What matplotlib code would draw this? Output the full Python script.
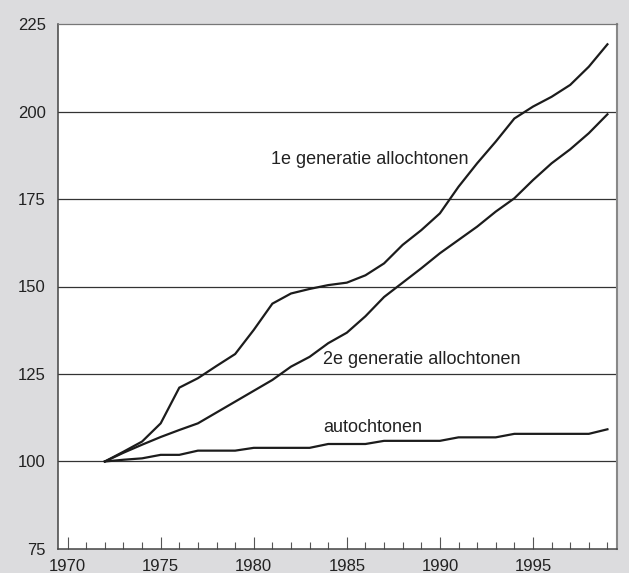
"""
Index (1972 = 100) for autochtonen and 1e / 2e generatie allochtonen, 1972-1999.
"""

import matplotlib
matplotlib.use("Agg")
import matplotlib.pyplot as plt
from matplotlib.ticker import MultipleLocator

plt.rcParams["font.family"] = ["Liberation Sans", "DejaVu Sans"]

# Data
years = list(range(1972, 2000))

gen1 = [100.0, 102.8, 105.7, 110.9, 121.1, 123.8, 127.3, 130.7, 137.6, 145.1,
        148.0, 149.3, 150.4, 151.1, 153.2, 156.6, 161.9, 166.1, 170.9, 178.5,
        185.2, 191.4, 198.0, 201.4, 204.2, 207.6, 212.8, 219.2]

gen2 = [100.0, 102.5, 104.8, 107.0, 109.0, 110.9, 114.0, 117.1, 120.2, 123.3,
        127.1, 129.9, 133.8, 136.8, 141.5, 147.0, 151.1, 155.2, 159.5, 163.3,
        167.1, 171.4, 175.2, 180.4, 185.2, 189.2, 193.8, 199.2]

auto = [100.0, 100.5, 100.9, 101.9, 101.9, 103.1, 103.1, 103.1, 103.9, 103.9,
        103.9, 103.9, 105.0, 105.0, 105.0, 105.9, 105.9, 105.9, 105.9, 106.9,
        106.9, 106.9, 107.9, 107.9, 107.9, 107.9, 107.9, 109.2]

y_ticks = [75, 100, 125, 150, 175, 200, 225]
grid_levels = [100, 125, 150, 175, 200]

BG = "#dcdcde"
LINE = "#1c1c1c"
TEXT = "#222222"


def main():
    fig = plt.figure(figsize=(6.29, 5.73), dpi=100, facecolor=BG)
    ax = fig.add_axes([0.0927, 0.0419, 0.8878, 0.9162])
    ax.set_facecolor("white")

    # horizontal reference lines
    for lvl in grid_levels:
        ax.axhline(lvl, color="#333333", linewidth=0.9, zorder=1)

    for series in (gen1, gen2, auto):
        ax.plot(years, series, color=LINE, linewidth=1.6,
                solid_joinstyle="miter", zorder=3)

    ax.text(1980.93, 186.4, "1e generatie allochtonen", fontsize=13,
            color=TEXT, va="center", ha="left")
    ax.text(1983.74, 129.0, "2e generatie allochtonen", fontsize=13,
            color=TEXT, va="center", ha="left")
    ax.text(1983.74, 109.7, "autochtonen", fontsize=13,
            color=TEXT, va="center", ha="left")

    ax.set_xlim(1969.5, 1999.5)
    ax.set_ylim(75, 225)
    ax.set_yticks(y_ticks)
    ax.xaxis.set_major_locator(MultipleLocator(5))
    ax.xaxis.set_minor_locator(MultipleLocator(1))

    ax.tick_params(axis="x", which="major", direction="in", length=8.8,
                   width=0.8, color="#555555", labelsize=12, labelcolor=TEXT,
                   pad=7)
    ax.tick_params(axis="x", which="minor", direction="in", length=5.2,
                   width=0.8, color="#555555")
    ax.tick_params(axis="y", length=0, labelsize=12, labelcolor=TEXT, pad=9)

    for side in ("left", "bottom"):
        ax.spines[side].set_color("#444444")
        ax.spines[side].set_linewidth(1.1)
    ax.spines["top"].set_color("#777777")
    ax.spines["top"].set_linewidth(0.9)
    ax.spines["right"].set_color("#888888")
    ax.spines["right"].set_linewidth(1.5)

    fig.savefig("out.png", dpi=100, facecolor=BG)


if __name__ == "__main__":
    main()
